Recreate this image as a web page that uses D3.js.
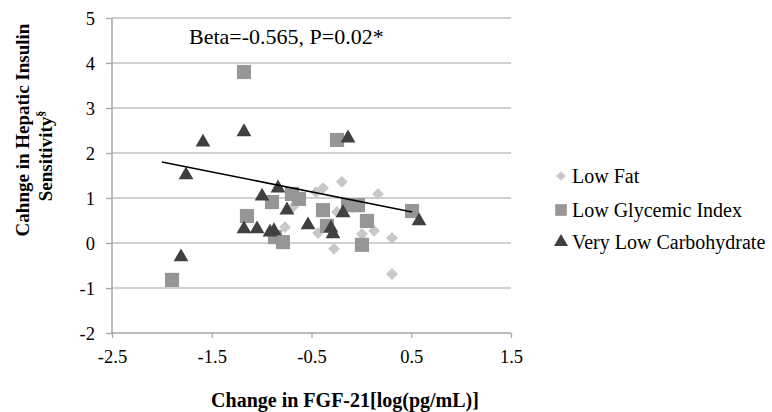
<!DOCTYPE html>
<html>
<head>
<meta charset="utf-8">
<script src="https://cdnjs.cloudflare.com/ajax/libs/d3/7.8.5/d3.min.js"></script>
<style>
	body { margin: 0; background: #fff; }
	text { font-family: "Liberation Serif", "Times New Roman", serif; fill: #000; }
</style>
</head>
<body>
<div id="chart"></div>
<script>
// Data
var lowFatX = [-0.195, -0.385, -0.455, 0.167, -0.245, 0.127, 0.307, -0.275, 0.307, 0.006, -0.435, -0.766, -0.686];
var lowFatY = [1.36, 1.22, 1.13, 1.09, 0.69, 0.27, 0.11, -0.13, -0.69, 0.20, 0.22, 0.35, 0.80];

var lowGiX = [-1.177, -1.898, -1.147, -0.896, -0.866, -0.786, -0.696, -0.626, -0.385, -0.345, -0.244, -0.134, -0.034, 0.056, 0.006, 0.508];
var lowGiY = [3.80, -0.82, 0.60, 0.91, 0.13, 0.02, 1.09, 0.98, 0.73, 0.38, 2.29, 0.84, 0.84, 0.49, -0.04, 0.71];

var vlcX = [-1.588, -1.177, -1.758, -1.808, -0.134, -0.996, -0.836, -0.746, -1.177, -1.046, -0.916, -0.876, -0.535, -0.305, -0.285, -0.184, 0.578];
var vlcY = [2.24, 2.47, 1.51, -0.31, 2.33, 1.04, 1.22, 0.73, 0.31, 0.31, 0.24, 0.27, 0.40, 0.33, 0.20, 0.67, 0.49];

var trendX = [-2.0, 0.51];
var trendY = [1.80, 0.69];

var xTicks = [-2.5, -1.5, -0.5, 0.5, 1.5];
var yTicks = [-2, -1, 0, 1, 2, 3, 4, 5];

var seriesNames = ["Low Fat", "Low Glycemic Index", "Very Low Carbohydrate"];
var seriesColors = ["#c8c8c8", "#969696", "#404040"];

var annotation = "Beta=-0.565, P=0.02*";

// Layout
var width = 772, height = 412;
var plot = {left: 112, right: 511, top: 18, bottom: 333};

var svg = d3.select("#chart").append("svg")
	.attr("width", width)
	.attr("height", height);

var x = d3.scaleLinear().domain([-2.5, 1.5]).range([plot.left, plot.right]);
var y = d3.scaleLinear().domain([-2, 5]).range([plot.bottom, plot.top]);

// Gridlines
svg.append("g").selectAll("line")
	.data(yTicks.slice(1))
	.enter().append("line")
	.attr("x1", plot.left).attr("x2", plot.right)
	.attr("y1", function(d) { return y(d); })
	.attr("y2", function(d) { return y(d); })
	.attr("stroke", "#c0c0c0")
	.attr("stroke-width", 1.3);

// Axes (plain hyphen for negatives, like the original)
var xAxis = d3.axisBottom(x).tickValues(xTicks).tickSize(5)
	.tickFormat(function(d) { return d.toFixed(1); });
var yAxis = d3.axisLeft(y).tickValues(yTicks).tickSize(6)
	.tickFormat(function(d) { return String(d); });

var gx = svg.append("g")
	.attr("transform", "translate(0," + plot.bottom + ")")
	.call(xAxis);
var gy = svg.append("g")
	.attr("transform", "translate(" + plot.left + ",0)")
	.call(yAxis);

[gx, gy].forEach(function(g) {
	g.select(".domain").attr("stroke", "#a6a6a6").attr("stroke-width", 1.5);
	g.selectAll(".tick line").attr("stroke", "#a6a6a6").attr("stroke-width", 1.3);
	g.selectAll(".tick text")
		.style("font-family", "'Liberation Serif', serif")
		.style("font-size", "18.5px")
		.attr("fill", "#000");
});
gx.select(".domain").attr("d", "M" + plot.left + ",0H" + plot.right);
gy.select(".domain").attr("d", "M0," + plot.top + "V" + plot.bottom);
gx.selectAll(".tick text").attr("y", 8).attr("dy", 22);
gy.selectAll(".tick text").attr("x", -17).attr("dy", "0.34em");

// Points
var series = [
	{xs: lowFatX, ys: lowFatY, symbol: d3.symbolSquare, size: 70, rotate: 45},
	{xs: lowGiX, ys: lowGiY, symbol: d3.symbolSquare, size: 200, rotate: 0},
	{xs: vlcX, ys: vlcY, symbol: d3.symbolTriangle, size: 95, rotate: 0}
];

series.forEach(function(s, i) {
	var pts = s.xs.map(function(v, j) { return [v, s.ys[j]]; });
	svg.append("g").selectAll("path")
		.data(pts)
		.enter().append("path")
		.attr("d", d3.symbol().type(s.symbol).size(s.size))
		.attr("transform", function(d) {
			return "translate(" + x(d[0]) + "," + y(d[1]) + ") rotate(" + s.rotate + ")";
		})
		.attr("fill", seriesColors[i]);
});

// Trendline
svg.append("line")
	.attr("x1", x(trendX[0])).attr("y1", y(trendY[0]))
	.attr("x2", x(trendX[1])).attr("y2", y(trendY[1]))
	.attr("stroke", "#000")
	.attr("stroke-width", 1.5);

// Annotation
svg.append("text")
	.attr("x", 189)
	.attr("y", 44)
	.style("font-size", "22px")
	.text(annotation);

// Axis titles
svg.append("text")
	.attr("x", 345)
	.attr("y", 407)
	.attr("text-anchor", "middle")
	.style("font-size", "20px")
	.style("font-weight", "bold")
	.text("Change in FGF-21[log(pg/mL)]");

var yTitle = svg.append("text")
	.attr("transform", "translate(29,130) rotate(-90)")
	.attr("text-anchor", "middle")
	.style("font-size", "19px")
	.style("font-weight", "bold");
yTitle.append("tspan").attr("x", 0).attr("dy", 0).text("Cahnge in Hepatic Insulin");
yTitle.append("tspan").attr("x", -26).attr("dy", 23).text("Sensitivity");
yTitle.append("tspan").attr("dy", -7).style("font-size", "12px").text("§");

// Legend
var legend = svg.append("g").attr("transform", "translate(561,176)");
var legendItems = [
	{symbol: d3.symbolSquare, size: 45, rotate: 45},
	{symbol: d3.symbolSquare, size: 135, rotate: 0},
	{symbol: d3.symbolTriangle, size: 85, rotate: 0}
];
var legendOffsets = [0, 34, 66];
legendItems.forEach(function(it, i) {
	var g = legend.append("g").attr("transform", "translate(0," + legendOffsets[i] + ")");
	g.append("path")
		.attr("d", d3.symbol().type(it.symbol).size(it.size))
		.attr("transform", "rotate(" + it.rotate + ")")
		.attr("fill", seriesColors[i]);
	g.append("text")
		.attr("x", 11)
		.attr("dy", "0.34em")
		.style("font-size", "20px")
		.text(seriesNames[i]);
});
</script>
</body>
</html>
